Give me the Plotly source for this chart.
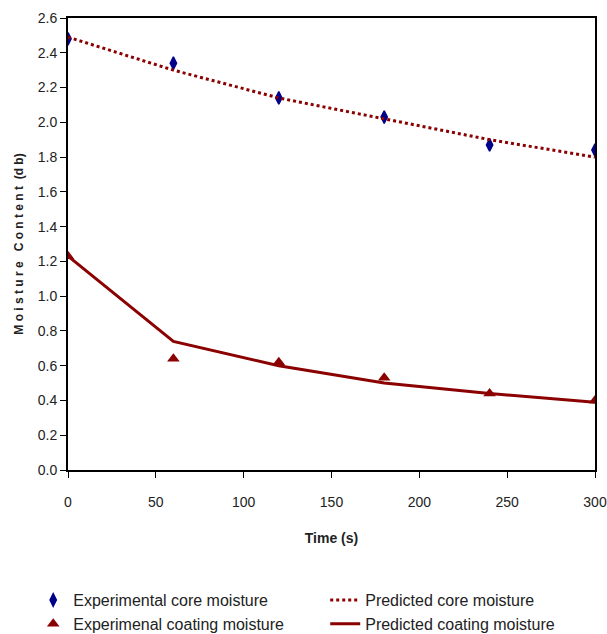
import plotly.graph_objects as go

time_exp = [0, 60, 120, 180, 240, 300]
core_exp = [2.48, 2.34, 2.14, 2.03, 1.87, 1.84]
coat_exp = [1.23, 0.64, 0.62, 0.53, 0.44, 0.40]
time_pred = [0, 60, 120, 180, 240, 300]
core_pred = [2.49, 2.30, 2.14, 2.02, 1.90, 1.80]
coat_pred = [1.23, 0.74, 0.60, 0.50, 0.44, 0.39]
x_ticks = [0, 50, 100, 150, 200, 250, 300]
y_ticks = [round(0.2 * i, 1) for i in range(14)]

font = "Liberation Sans, Arial"
red = "#8B0000"
blue = "#00008B"

fig = go.Figure()
fig.add_trace(go.Scatter(x=time_exp, y=core_exp, mode="markers", name="Experimental core moisture",
                         marker=dict(symbol="diamond-tall", size=9, color=blue,
                                     line=dict(color=blue, width=1.5))))
fig.add_trace(go.Scatter(x=time_pred, y=core_pred, mode="lines", name="Predicted core moisture",
                         line=dict(color=red, width=3, dash="dot")))
fig.add_trace(go.Scatter(x=time_exp, y=coat_exp, mode="markers", name="Experimenal coating moisture",
                         marker=dict(symbol="triangle-up", size=11, color=red)))
fig.add_trace(go.Scatter(x=time_pred, y=coat_pred, mode="lines", name="Predicted coating moisture",
                         line=dict(color=red, width=3)))

fig.update_layout(
    width=607, height=634,
    margin=dict(l=68, r=12, t=18, b=164, autoexpand=False),
    plot_bgcolor="white", paper_bgcolor="white",
    font=dict(family=font, size=14, color="#222"),
    showlegend=True,
    legend=dict(orientation="h", x=-0.066, y=-0.25, xanchor="left", yanchor="top",
                entrywidth=247, entrywidthmode="pixels",
                font=dict(family=font, size=16, color="#222"),
                tracegroupgap=0, itemwidth=30),
    xaxis=dict(range=[0, 300], tickvals=x_ticks, showline=True, linecolor="black", linewidth=2,
               mirror=True, ticks="outside", ticklen=6, tickcolor="black", showgrid=False,
               zeroline=False, ticklabelstandoff=12, automargin=False,
               title=dict(text="<b>Time (s)</b>", font=dict(size=14), standoff=24)),
    yaxis=dict(range=[0, 2.6], tickvals=y_ticks, tickformat=".1f", showline=True, linecolor="black",
               linewidth=2, mirror=True, ticks="outside", ticklen=6, tickcolor="black",
               showgrid=False, zeroline=False, automargin=False,
               title=dict(text="<b>M o i s t u r e   C o n t e n t  (d b)</b>", font=dict(size=12), standoff=12)),
)
fig.write_html("out.html", config={"displayModeBar": False},
               post_script="document.body.style.margin='0';document.body.style.overflow='hidden';")
